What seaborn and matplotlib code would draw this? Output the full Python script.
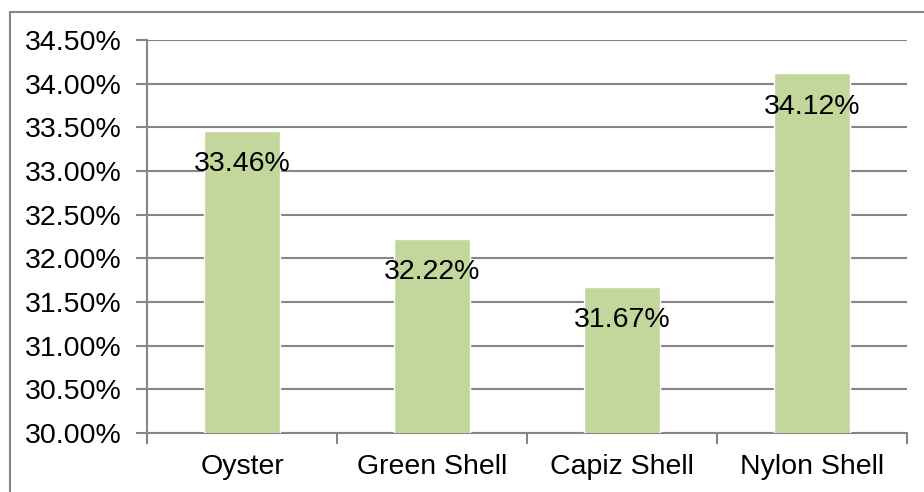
import numpy as np
import pandas as pd
import matplotlib
matplotlib.use("Agg")
import matplotlib.pyplot as plt
import seaborn as sns
from matplotlib.ticker import FuncFormatter, FixedLocator
from matplotlib.patches import Rectangle

# data
categories = ["Oyster", "Green Shell", "Capiz Shell", "Nylon Shell"]
values = [0.3346, 0.3222, 0.3167, 0.3412]
value_labels = ["33.46%", "32.22%", "31.67%", "34.12%"]

df = pd.DataFrame({"Shell": categories, "Value": values})

sns.set_style("white")
plt.rcParams["font.family"] = ["Liberation Sans", "DejaVu Sans"]

fig = plt.figure(figsize=(9.24, 4.92), dpi=100)
ax = fig.add_axes([147 / 924, 1 - 433 / 492, 760 / 924, 393 / 492])

grid_col = "#868686"
fs = 20.5

sns.barplot(data=df, x="Shell", y="Value", color="#C3D69B",
            width=0.4, saturation=1, ax=ax, zorder=3)

ax.set_ylim(0.30, 0.345)
ax.set_xlim(-0.5, 3.5)
ax.set_yticks(np.arange(0.30, 0.3451, 0.005))
ax.yaxis.set_major_formatter(FuncFormatter(lambda v, p: f"{v * 100:.2f}%"))
ax.yaxis.grid(True, color=grid_col, linewidth=1.5, zorder=0)
ax.set_axisbelow(True)

# category boundary ticks on x axis, labels centred
ax.xaxis.set_major_locator(FixedLocator([-0.5, 0.5, 1.5, 2.5, 3.5]))
ax.xaxis.set_major_formatter(FuncFormatter(lambda v, p: ""))
ax.xaxis.set_minor_locator(FixedLocator([0, 1, 2, 3]))
ax.set_xticklabels(categories, minor=True)
ax.tick_params(axis="x", which="major", length=8, width=1.5, color=grid_col,
               direction="out")
ax.tick_params(axis="x", which="minor", length=0, pad=15, labelsize=fs,
               labelcolor="black")
ax.tick_params(axis="y", length=8, width=1.5, color=grid_col,
               direction="out", labelsize=fs, pad=10, labelcolor="black")
ax.tick_params(bottom=True, left=True)

ax.set_xlabel("")
ax.set_ylabel("")
for side in ["top", "right"]:
    ax.spines[side].set_visible(False)
for side in ["left", "bottom"]:
    ax.spines[side].set_color(grid_col)
    ax.spines[side].set_linewidth(1.5)

for i, (v, lab) in enumerate(zip(values, value_labels)):
    ax.annotate(lab, (i, v), xytext=(0, -24), textcoords="offset points",
                ha="center", va="center", fontsize=fs, color="black", zorder=4)

# outer chart frame
fig.patches.append(Rectangle((9.5 / 924, -0.05), 1.0, 1 - 11.5 / 492 + 0.05,
                             transform=fig.transFigure, fill=False,
                             edgecolor=grid_col, linewidth=1.5))

fig.savefig("out.png", dpi=100)
